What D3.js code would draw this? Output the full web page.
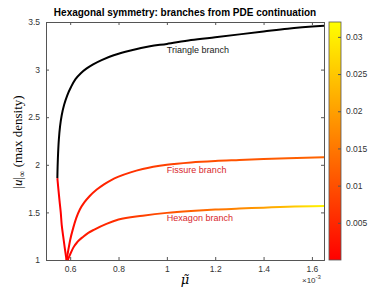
<!DOCTYPE html>
<html>
  <head>
    <meta charset="utf-8">
    <title>Hexagonal symmetry</title>
    <script src="https://d3js.org/d3.v7.min.js"></script>
    <style>
      body { margin: 0; background: #fff; }
      svg { font-family: "Liberation Sans", Arial, sans-serif; }
      .tick text { fill: #333; font-size: 8.5px; }
    </style>
  </head>
  <body>
    <svg id="canvas" width="389" height="292"></svg>
    <script>
      // data, mu in units of 1e-3
      // triangle branch: lower (red) part and upper (black) part
      triangleLowU = [1.0, 1.12, 1.25, 1.37, 1.5, 1.62, 1.75, 1.86];
      triangleLowMu = [0.585, 0.578, 0.571, 0.565, 0.561, 0.556, 0.551, 0.547];
      triangleMu = [0.547, 0.548, 0.550, 0.553, 0.558, 0.565, 0.575, 0.588, 0.604, 0.622, 0.643, 0.667, 0.695, 0.73, 0.78, 0.85, 0.93, 1.0, 1.1, 1.2, 1.3, 1.4, 1.5, 1.65];
      triangleU = [1.86, 1.98, 2.12, 2.26, 2.40, 2.52, 2.63, 2.73, 2.82, 2.90, 2.96, 3.01, 3.055, 3.10, 3.15, 3.20, 3.245, 3.27, 3.31, 3.34, 3.37, 3.40, 3.43, 3.46];
      fissureMu = [0.585, 0.592, 0.6, 0.613, 0.625, 0.64, 0.66, 0.68, 0.71, 0.74, 0.77, 0.8, 0.85, 0.9, 1.0, 1.1, 1.2, 1.3, 1.4, 1.5, 1.65];
      fissureU = [1.0, 1.1, 1.21, 1.34, 1.44, 1.53, 1.61, 1.67, 1.74, 1.795, 1.84, 1.875, 1.92, 1.955, 2.0, 2.025, 2.04, 2.05, 2.06, 2.07, 2.08];
      fissureC = [0, 0.0005, 0.001, 0.0015, 0.002, 0.0025, 0.003, 0.0035, 0.004, 0.0045, 0.005, 0.0055, 0.006, 0.007, 0.008, 0.009, 0.0098, 0.0105, 0.011, 0.0118, 0.0125];
      hexagonMu = [0.59, 0.6, 0.613, 0.63, 0.654, 0.675, 0.7, 0.75, 0.8, 0.9, 1.0, 1.1, 1.2, 1.3, 1.4, 1.5, 1.65];
      hexagonU = [1.0, 1.06, 1.13, 1.19, 1.245, 1.285, 1.32, 1.38, 1.425, 1.465, 1.495, 1.515, 1.53, 1.54, 1.55, 1.56, 1.567];
      hexagonC = [0, 0.0005, 0.001, 0.002, 0.003, 0.0035, 0.004, 0.005, 0.006, 0.008, 0.01, 0.012, 0.014, 0.017, 0.02, 0.024, 0.031];
      xTicks = [0.6, 0.8, 1, 1.2, 1.4, 1.6];
      yTicks = [1, 1.5, 2, 2.5, 3, 3.5];
      cTicks = [0.005, 0.01, 0.015, 0.02, 0.025, 0.03];
      labels = [
        ["Triangle branch", 1.0, 3.175, "#222"],
        ["Fissure branch", 1.0, 1.915, "#d7262b"],
        ["Hexagon branch", 1.0, 1.41, "#d7262b"]
      ];

      canvas = d3.select("#canvas");
      margin = {left: 46, top: 22, right: 324, bottom: 260};

      x = d3.scaleLinear()
        .domain([0.5, 1.65])
        .range([margin.left, margin.right]);
      y = d3.scaleLinear()
        .domain([1, 3.5])
        .range([margin.bottom, margin.top]);
      c = d3.scaleLinear()
        .domain([0, 0.032])
        .range([margin.bottom, margin.top]);
      autumn = function(v) {
        let t = Math.max(0, Math.min(1, v / 0.032));
        return d3.rgb(255, Math.round(255 * t), 0).toString();
      };

      // title
      canvas.append("text")
        .attr("x", 185)
        .attr("y", 16)
        .attr("text-anchor", "middle")
        .style("font-size", "10px")
        .style("font-weight", "bold")
        .text("Hexagonal symmetry: branches from PDE continuation");

      // axes
      plot = canvas.append("g");
      plot.append("g")
        .attr("transform", "translate(0," + margin.bottom + ")")
        .call(d3.axisBottom(x).tickValues(xTicks).tickSize(-3).tickPadding(6).tickFormat(d3.format("~g")));
      plot.append("g")
        .attr("transform", "translate(0," + margin.top + ")")
        .call(d3.axisTop(x).tickValues(xTicks).tickSize(-3).tickFormat(""));
      plot.append("g")
        .attr("transform", "translate(" + margin.left + ",0)")
        .call(d3.axisLeft(y).tickValues(yTicks).tickSize(-3).tickPadding(6).tickFormat(d3.format("~g")));
      plot.append("g")
        .attr("transform", "translate(" + margin.right + ",0)")
        .call(d3.axisRight(y).tickValues(yTicks).tickSize(-3).tickFormat(""));
      plot.selectAll(".domain").attr("stroke", "#555");
      plot.selectAll(".tick line").attr("stroke", "#555");

      // gradients along x for coloured branches
      defs = canvas.append("defs");
      function gradient(id, mu, col) {
        let g = defs.append("linearGradient")
          .attr("id", id)
          .attr("gradientUnits", "userSpaceOnUse")
          .attr("x1", x(mu[0])).attr("x2", x(mu[mu.length - 1]))
          .attr("y1", 0).attr("y2", 0);
        let span = x(mu[mu.length - 1]) - x(mu[0]);
        mu.forEach(function(m, i) {
          g.append("stop")
            .attr("offset", (x(m) - x(mu[0])) / span)
            .attr("stop-color", autumn(col[i]));
        });
      }
      gradient("gFissure", fissureMu, fissureC);
      gradient("gHexagon", hexagonMu, hexagonC);

      lineX = d3.line()
        .x(function(d) { return x(d[0]); })
        .y(function(d) { return y(d[1]); })
        .curve(d3.curveMonotoneX);
      lineY = d3.line()
        .x(function(d) { return x(d[0]); })
        .y(function(d) { return y(d[1]); })
        .curve(d3.curveMonotoneY);
      lineC = d3.line()
        .x(function(d) { return x(d[0]); })
        .y(function(d) { return y(d[1]); })
        .curve(d3.curveCatmullRom.alpha(0.5));

      lines = canvas.append("g")
        .attr("fill", "none")
        .attr("stroke-width", 2)
        .attr("stroke-linejoin", "round");
      lines.append("path")
        .attr("d", lineX(d3.zip(fissureMu, fissureU)))
        .attr("stroke", "url(#gFissure)");
      lines.append("path")
        .attr("d", lineX(d3.zip(hexagonMu, hexagonU)))
        .attr("stroke", "url(#gHexagon)");
      lines.append("path")
        .attr("d", lineY(d3.zip(triangleLowMu, triangleLowU)))
        .attr("stroke", autumn(0));
      lines.append("path")
        .attr("d", lineC(d3.zip(triangleMu, triangleU)))
        .attr("stroke", "#000");

      // branch labels
      canvas.selectAll(".label")
        .data(labels)
        .enter().append("text")
          .attr("x", function(d) { return x(d[1]); })
          .attr("y", function(d) { return y(d[2]); })
          .attr("fill", function(d) { return d[3]; })
          .style("font-size", "9px")
          .text(function(d) { return d[0]; });

      // x label and exponent
      canvas.append("text")
        .attr("x", 185)
        .attr("y", 284)
        .attr("text-anchor", "middle")
        .style("font-family", "'DejaVu Serif', serif")
        .style("font-style", "italic")
        .style("font-size", "13px")
        .text("μ\u0303");
      exp = canvas.append("text")
        .attr("x", 302)
        .attr("y", 283)
        .attr("fill", "#333")
        .style("font-size", "8px");
      exp.append("tspan").text("×10");
      exp.append("tspan").attr("dy", -4).style("font-size", "6px").text("-3");

      // y label
      ylab = canvas.append("text")
        .attr("transform", "translate(22,142) rotate(-90)")
        .attr("text-anchor", "middle")
        .style("font-family", "'Liberation Serif', serif")
        .style("font-size", "13px");
      ylab.append("tspan").text("|");
      ylab.append("tspan").style("font-style", "italic").text("u");
      ylab.append("tspan").text("|");
      ylab.append("tspan").attr("dy", 3).style("font-size", "9px").text("∞");
      ylab.append("tspan").attr("dy", -3).text(" (max density)");

      // colorbar
      cb = canvas.append("g");
      cbGrad = defs.append("linearGradient")
        .attr("id", "gBar")
        .attr("x1", 0).attr("x2", 0).attr("y1", 1).attr("y2", 0);
      cbGrad.append("stop").attr("offset", 0).attr("stop-color", autumn(0));
      cbGrad.append("stop").attr("offset", 1).attr("stop-color", autumn(0.032));
      cb.append("rect")
        .attr("x", 329)
        .attr("y", margin.top)
        .attr("width", 12)
        .attr("height", margin.bottom - margin.top)
        .attr("fill", "url(#gBar)")
        .attr("stroke", "#555")
        .attr("stroke-width", 0.8);
      cb.append("g")
        .attr("transform", "translate(341,0)")
        .call(d3.axisRight(c).tickValues(cTicks).tickSize(-3).tickPadding(5).tickFormat(d3.format("~g")))
        .call(function(g) { g.select(".domain").remove(); })
        .call(function(g) { g.selectAll(".tick line").attr("stroke", "#555"); });
    </script>
  </body>
</html>
